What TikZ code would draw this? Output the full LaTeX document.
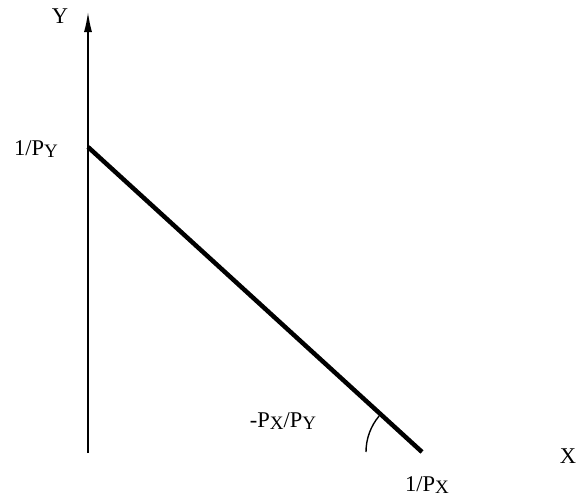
\documentclass[tikz,border=0pt]{standalone}
\usepackage{fontspec}
\setmainfont{Liberation Serif}
\usetikzlibrary{arrows.meta}
\newcommand{\sub}[1]{\raisebox{-0.25ex}{\fontsize{19}{21}\selectfont #1}}
\begin{document}
\begin{tikzpicture}[x=1pt,y=-1pt,
  lbl/.style={font=\fontsize{22.5}{26}\selectfont, inner sep=0pt, anchor=base},
  axis/.style={line width=1.4pt, -{Latex[length=20pt,width=8pt]}},
  budget/.style={line width=4.5pt}]
  \useasboundingbox (0,0) rectangle (579,498);
  % Axis and points
  \coordinate (origin) at (88,453);
  \coordinate (ytop) at (88,12);
  \coordinate (ycut) at (88,147);
  \coordinate (xcut) at (422,452);
  \draw[axis] (origin) -- (ytop);
  % Budget line
  \draw[budget] (ycut) -- (xcut);
  % Slope arc
  \draw[line width=1.4pt] ([xshift=-56pt]xcut) arc[start angle=180, end angle=220, radius=56];
  % Labels
  \node[lbl] (ylbl) at (60,23) {Y};
  \node[lbl] (ycutlbl) at (36,155) {1/P\sub{Y}};
  \node[lbl] (slopelbl) at (283,427) {-P\sub{X}/P\sub{Y}};
  \node[lbl] (xcutlbl) at (427,491) {1/P\sub{X}};
  \node[lbl] (xlbl) at (568,463) {X};
\end{tikzpicture}
\end{document}
